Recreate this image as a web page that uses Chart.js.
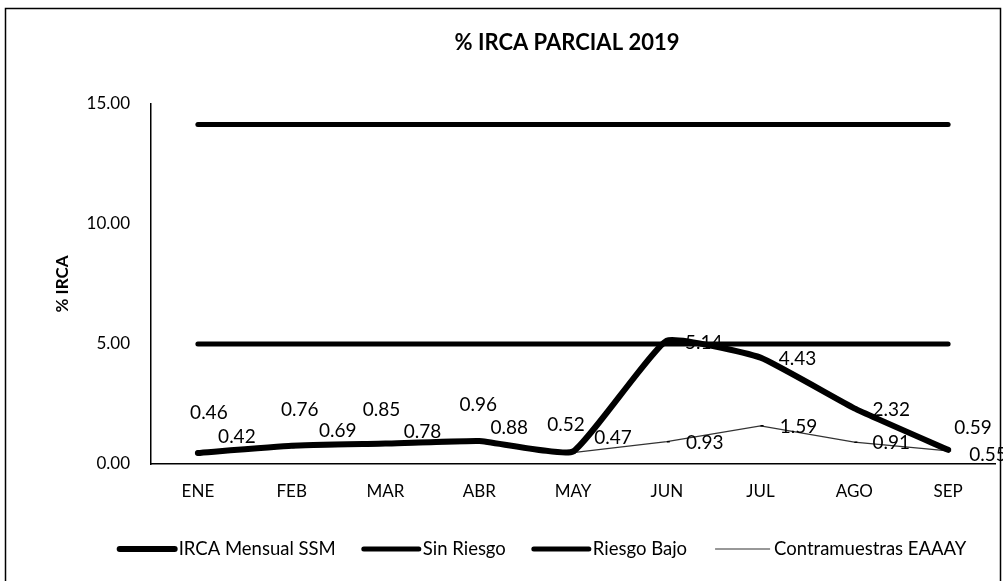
<!DOCTYPE html>
<html><head><meta charset="utf-8">
<script src="https://cdn.jsdelivr.net/npm/chart.js@4.4.1/dist/chart.umd.min.js"></script>
<style>html,body{margin:0;padding:0;background:#fff;} #wrap{position:relative;width:1003px;height:581px;}</style>
</head><body><div id="wrap"><canvas id="c" width="1003" height="581"></canvas></div>
<script>
const categories = ['ENE','FEB','MAR','ABR','MAY','JUN','JUL','AGO','SEP'];
const ircaMensualSSM = [0.46, 0.76, 0.85, 0.96, 0.52, 5.14, 4.43, 2.32, 0.59];
const sinRiesgo = [5, 5, 5, 5, 5, 5, 5, 5, 5];
const riesgoBajo = [14.15, 14.15, 14.15, 14.15, 14.15, 14.15, 14.15, 14.15, 14.15];
const contramuestras = [0.42, 0.69, 0.78, 0.88, 0.47, 0.93, 1.59, 0.91, 0.55];
const yTicks = [0, 5, 10, 15];
const seriesNames = ['IRCA Mensual SSM', 'Sin Riesgo', 'Riesgo Bajo', 'Contramuestras EAAAY'];
const chartTitle = '% IRCA PARCIAL 2019';
const yTitle = '% IRCA';

// label placement (layout only)
const ircaLabelOffsets = [[11,-40],[8,-36],[-4,-34],[-1,-36],[-7,-27],[37,2],[37,1],[37,2],[25,-22]];
const contraLabelOffsets = [[39,-17],[46,-17],[37,-13],[30,-15],[40,-15],[38,1],[38,1],[37,1],[40,4]];

const FONT = 'Lato, "Open Sans", sans-serif';

const decorPlugin = {
  id: 'decor',
  beforeDraw(chart) {
    const ctx = chart.ctx;
    ctx.save();
    ctx.fillStyle = '#fff';
    ctx.fillRect(0, 0, chart.width, chart.height);
    ctx.strokeStyle = '#000';
    ctx.lineWidth = 1.5;
    ctx.strokeRect(5.5, 8.5, 995, 640);
    ctx.restore();
  },
  afterDraw(chart) {
    const ctx = chart.ctx;
    ctx.save();
    ctx.fillStyle = '#000';
    ctx.font = 'bold 22px ' + FONT;
    ctx.textAlign = 'center';
    ctx.textBaseline = 'middle';
    ctx.fillText(chartTitle, 567, 43);

    ctx.font = '19px ' + FONT;
    const m0 = chart.getDatasetMeta(0);
    const m3 = chart.getDatasetMeta(3);
    m0.data.forEach((pt, i) => {
      const o = ircaLabelOffsets[i];
      ctx.fillText(ircaMensualSSM[i].toFixed(2), pt.x + o[0], pt.y + o[1]);
    });
    m3.data.forEach((pt, i) => {
      const o = contraLabelOffsets[i];
      ctx.fillText(contramuestras[i].toFixed(2), pt.x + o[0], pt.y + o[1]);
    });

    ctx.font = '18.5px ' + FONT;
    const sample = 55, gap = 4, spacing = 28;
    const widths = seriesNames.map(n => ctx.measureText(n).width);
    let total = 0;
    widths.forEach((w, i) => { total += sample + gap + w + (i < widths.length - 1 ? spacing : 0); });
    let x = 543 - total / 2;
    const y = 549;
    ctx.textAlign = 'left';
    chart.data.datasets.forEach((ds, i) => {
      ctx.strokeStyle = ds.borderColor;
      ctx.lineWidth = ds.borderWidth;
      ctx.lineCap = ds.borderWidth > 2 ? 'round' : 'butt';
      ctx.beginPath();
      ctx.moveTo(x, y);
      ctx.lineTo(x + sample, y);
      ctx.stroke();
      x += sample + gap;
      ctx.fillStyle = '#000';
      ctx.fillText(seriesNames[i], x, y);
      x += widths[i] + spacing;
    });
    ctx.restore();
  }
};

new Chart(document.getElementById('c'), {
  type: 'line',
  data: {
    labels: categories,
    datasets: [
      { label: seriesNames[0], data: ircaMensualSSM, borderColor: '#000', borderWidth: 6, pointRadius: 0, tension: 0.12, borderCapStyle: 'round', borderJoinStyle: 'round', order: 0 },
      { label: seriesNames[1], data: sinRiesgo, borderColor: '#000', borderWidth: 5, pointRadius: 0, borderCapStyle: 'round', order: 2 },
      { label: seriesNames[2], data: riesgoBajo, borderColor: '#000', borderWidth: 5, pointRadius: 0, borderCapStyle: 'round', order: 3 },
      { label: seriesNames[3], data: contramuestras, borderColor: '#333', borderWidth: 1.2, pointRadius: 3, pointStyle: 'dash', pointBorderColor: '#000', pointBorderWidth: 1.5, order: 1 }
    ]
  },
  options: {
    responsive: false,
    devicePixelRatio: 1,
    animation: false,
    layout: { padding: { top: 104, right: 8, left: 0, bottom: 0 } },
    plugins: { legend: { display: false }, title: { display: false }, tooltip: { enabled: false } },
    scales: {
      x: {
        offset: true,
        grid: { display: false, drawTicks: false },
        border: { display: true, color: '#000', width: 1.5 },
        ticks: { color: '#000', font: { family: FONT, size: 17 }, padding: 17, maxRotation: 0 },
        afterFit(s) { s.height = 117; }
      },
      y: {
        min: 0, max: 15,
        afterBuildTicks(s) { s.ticks = yTicks.map(v => ({ value: v })); },
        grid: { display: false, drawTicks: false },
        border: { display: true, color: '#000', width: 1.5 },
        ticks: { color: '#000', font: { family: FONT, size: 17 }, padding: 21, callback: v => Number(v).toFixed(2) },
        title: { display: true, text: yTitle, color: '#000', font: { family: FONT, size: 17, weight: 'bold' }, padding: { top: 52, bottom: 0 } },
        afterFit(s) { s.width = 151; }
      }
    }
  },
  plugins: [decorPlugin]
});
</script>
</body></html>
